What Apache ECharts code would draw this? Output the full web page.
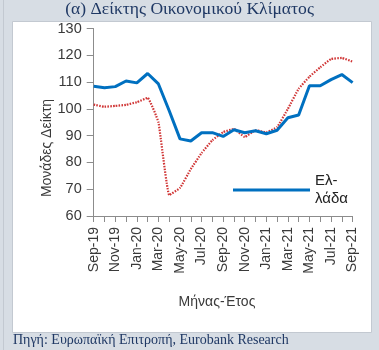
<!DOCTYPE html>
<html>
<head>
<meta charset="utf-8">
<script src="https://cdn.jsdelivr.net/npm/echarts@6/dist/echarts.min.js"></script>
<style>
html,body{margin:0;padding:0;background:#d7dde4;}
#c{width:379px;height:350px;}
</style>
</head>
<body>
<div id="c"></div>
<script>
var categories = ['Sep-19','Oct-19','Nov-19','Dec-19','Jan-20','Feb-20','Mar-20','Apr-20','May-20','Jun-20','Jul-20','Aug-20','Sep-20','Oct-20','Nov-20','Dec-20','Jan-21','Feb-21','Mar-21','Apr-21','May-21','Jun-21','Jul-21','Aug-21','Sep-21'];
var greece = [108.4,107.9,108.3,110.4,109.7,113.2,109.3,99.3,88.8,88.0,91.1,91.1,89.7,92.2,91.1,91.8,90.7,92.0,96.7,97.7,108.6,108.6,110.9,112.8,109.8];
var eurozone = [101.6,100.8,101.1,101.5,102.5,104.1,95.0,67.8,70.5,77.5,83.5,88.3,91.3,92.5,89.5,92.0,91.3,93.2,100.0,107.5,112.0,115.5,118.6,119.0,117.6];
var yTicks = {min:60, max:130, interval:10};
var titleText = '(α) Δείκτης Οικονομικού Κλίματος';
var sourceText = 'Πηγή: Ευρωπαϊκή Επιτροπή, Eurobank Research';
var yName = 'Μονάδες Δείκτη';
var xName = 'Μήνας-Έτος';

var chart = echarts.init(document.getElementById('c'), null, {renderer:'canvas'});
var labelColor = '#3a3a3a';
chart.setOption({
  backgroundColor: '#d7dde4',
  animation: false,
  graphic: [
    {type:'rect', z:-10, shape:{x:12.5, y:21.5, width:359, height:311}, style:{fill:'#ffffff', stroke:'#c3c9d1', lineWidth:1}},
    {type:'rect', z:-10, shape:{x:3, y:0, width:1, height:350}, style:{fill:'#c3c9d1'}},
    {type:'text', left:'center', top:0, style:{text:titleText, font:'17.6px "Liberation Serif"', fill:'#1f3864'}},
    {type:'text', left:13, top:333, style:{text:sourceText, font:'14px "Liberation Serif"', fill:'#1f3864'}},
    {type:'text', x:47, y:148, rotation:Math.PI/2, style:{text:yName, font:'14px "Liberation Sans"', fill:labelColor, align:'center', verticalAlign:'middle'}},
    {type:'text', x:217, y:302, style:{text:xName, font:'14px "Liberation Sans"', fill:labelColor, align:'center', verticalAlign:'middle'}}
  ],
  legend: {
    data: [{name:'Ελλάδα'}],
    left: 233, top: 163, padding: 0,
    icon: 'rect', itemWidth: 77, itemHeight: 3,
    itemGap: 5,
    formatter: function(){ return 'Ελ-\nλάδα'; },
    textStyle: {fontFamily:'Liberation Sans', fontSize:15, color:'#222', lineHeight:18, padding:[18,0,0,0]}
  },
  grid: {left:93.7, right:26.4, top:28.5, bottom:134},
  xAxis: {
    type:'category', data:categories, boundaryGap:false,
    axisLine:{show:true, lineStyle:{color:'#8c8c8c', width:1}},
    axisTick:{show:true, interval:0, length:6, lineStyle:{color:'#8c8c8c'}},
    axisLabel:{interval:1, rotate:90, margin:11, fontFamily:'Liberation Sans', fontSize:14, color:labelColor},
    splitLine:{show:false}
  },
  yAxis: {
    type:'value', min:yTicks.min, max:yTicks.max, interval:yTicks.interval,
    axisLine:{show:true, lineStyle:{color:'#8c8c8c', width:1}},
    axisTick:{show:true, length:7, lineStyle:{color:'#8c8c8c'}},
    axisLabel:{margin:12, fontFamily:'Liberation Sans', fontSize:14.5, color:labelColor},
    splitLine:{show:false}
  },
  series: [
    {name:'Ευρωζώνη', type:'line', data:eurozone, symbol:'none', smooth:0.1,
     lineStyle:{color:'#d03535', width:2.2, type:[1.5,1.3]}, z:2},
    {name:'Ελλάδα', type:'line', data:greece, symbol:'none', smooth:false,
     lineStyle:{color:'#0070c0', width:3}, itemStyle:{color:'#0070c0'}, z:3}
  ]
});
</script>
</body>
</html>
